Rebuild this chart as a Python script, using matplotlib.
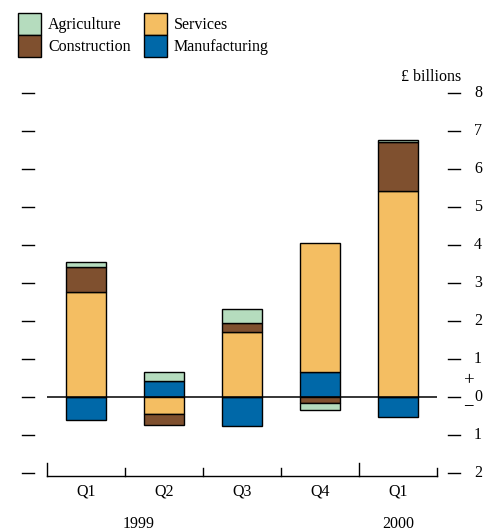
import matplotlib
matplotlib.use("Agg")
import matplotlib.pyplot as plt
import matplotlib.transforms as mtransforms
from matplotlib.patches import Rectangle
import numpy as np

plt.rcParams['font.family'] = ['Liberation Serif', 'DejaVu Serif']

quarters = ["Q1", "Q2", "Q3", "Q4", "Q1"]
years = ["1999", "2000"]
manufacturing = [-0.60, 0.42, -0.76, 0.65, -0.54]
services = [2.75, -0.45, 1.70, 3.40, 5.42]
construction = [0.68, -0.28, 0.245, -0.16, 1.28]
agriculture = [0.12, 0.24, 0.36, -0.19, 0.06]
yticks = [8, 7, 6, 5, 4, 3, 2, 1, 0, -1, -2]
ytick_labels = ["8", "7", "6", "5", "4", "3", "2", "1", "0", "1", "2"]

colors = {
    "Agriculture": "#b5dcbe",
    "Construction": "#7f502f",
    "Services": "#f4be62",
    "Manufacturing": "#0068a8",
}

FS = 11.5
W, H = 483, 531
fig = plt.figure(figsize=(W / 100, H / 100), dpi=100)
ax = fig.add_axes([47 / W, 1 - 476 / H, 390 / W, (476 - 85.4) / H])

series = [("Manufacturing", manufacturing), ("Services", services),
          ("Construction", construction), ("Agriculture", agriculture)]
x = np.arange(len(quarters))
pos_base = np.zeros(len(x))
neg_base = np.zeros(len(x))
for name, vals in series:
    vals = np.array(vals, dtype=float)
    bottoms = np.where(vals >= 0, pos_base, neg_base)
    ax.bar(x, vals, bottom=bottoms, width=0.51, color=colors[name],
           edgecolor="black", linewidth=1.0, zorder=2)
    pos_base = pos_base + np.where(vals >= 0, vals, 0)
    neg_base = neg_base + np.where(vals < 0, vals, 0)

ax.set_xlim(-0.5, 4.5)
ax.set_ylim(-2.08, 8.2)
ax.axhline(0, color="black", lw=1.1, zorder=3)

for s in ["top", "left", "right"]:
    ax.spines[s].set_visible(False)
ax.spines["bottom"].set_linewidth(1.0)
ax.set_xticks([])
ax.set_yticks([])

trans = mtransforms.blended_transform_factory(ax.transAxes, ax.transData)
for v, lab in zip(yticks, ytick_labels):
    ax.plot([-0.064, -0.033], [v, v], color="black", lw=1.0, transform=trans, clip_on=False)
    ax.plot([1.028, 1.059], [v, v], color="black", lw=1.0, transform=trans, clip_on=False)
    ax.text(1.105, v, lab, transform=trans, ha="center", va="center", fontsize=FS)

# category boundary ticks on bottom axis
ybot = -2.08
for i, b in enumerate(np.arange(-0.5, 5.0, 1.0)):
    h = 0.34 if i in (0, 4) else 0.2
    ax.plot([b, b], [ybot, ybot + h], color="black", lw=1.0, clip_on=False)

for xi, q in zip(x, quarters):
    ax.text(xi, -2.5, q, ha="center", va="center", fontsize=FS)
ax.text(0.67, -3.35, years[0], ha="center", va="center", fontsize=FS)
ax.text(4.0, -3.35, years[1], ha="center", va="center", fontsize=FS)

fig.text(469 / W, 1 - 381 / H, "+", ha="center", va="center", fontsize=FS + 2)
fig.text(468 / W, 1 - 407 / H, "\u2212", ha="center", va="center", fontsize=FS + 2)
fig.text(461 / W, 1 - 77 / H, "\u00a3 billions", ha="right", va="center", fontsize=FS)

# legend (manual, patches touching vertically)
legend_items = [("Agriculture", 18, 13), ("Construction", 18, 35),
                ("Services", 144, 13), ("Manufacturing", 144, 35)]
for name, px, py in legend_items:
    r = Rectangle((px / W, 1 - (py + 22) / H), 23 / W, 22 / H,
                  transform=fig.transFigure, facecolor=colors[name],
                  edgecolor="black", linewidth=1.0)
    fig.add_artist(r)
    fig.text((px + 30) / W, 1 - (py + 12) / H, name, ha="left", va="center",
             fontsize=FS)

fig.savefig("out.png", dpi=100)
